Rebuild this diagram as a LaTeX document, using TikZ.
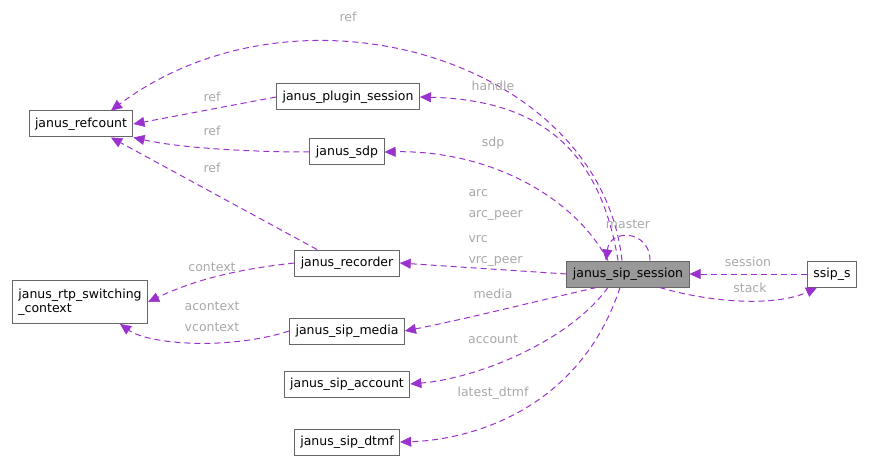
\documentclass[tikz,border=0pt]{standalone}
\usepackage{fontspec}
\setmainfont{DejaVu Sans}
\usetikzlibrary{positioning,calc,arrows.meta}
\definecolor{edgec}{HTML}{9A32CD}
\definecolor{labc}{HTML}{A8A8A8}
\definecolor{fillc}{HTML}{999999}

\begin{document}
\begin{tikzpicture}[x=1pt,y=-1pt,
    box/.style={draw=black!60, rectangle, minimum height=26, inner xsep=6, line width=1pt, font=\fontsize{12.5}{14}\selectfont, fill=white},
    arrow/.style={-{Triangle[length=11,width=10,fill=edgec,line width=0.5pt]}, dash pattern=on 6pt off 4pt, draw=edgec, line width=1pt},
    label/.style={font=\fontsize{12.5}{14}\selectfont, text=labc}
]
\useasboundingbox (0,0) rectangle (869,462);

% Nodes
\node[box] (refcount) at (81,124) {janus\_refcount};
\node[box] (plugin) at (348,97) {janus\_plugin\_session};
\node[box] (sdp) at (347,152) {janus\_sdp};
\node[box] (recorder) at (347,263) {janus\_recorder};
\node[box, align=left, minimum height=43, inner ysep=2] (rtp) at (80,302) {janus\_rtp\_switching\\\_context};
\node[box] (media) at (347,331) {janus\_sip\_media};
\node[box] (account) at (347,384) {janus\_sip\_account};
\node[box] (dtmf) at (347,442) {janus\_sip\_dtmf};
\node[box, fill=fillc] (session) at (628,274) {janus\_sip\_session};
\node[box] (ssip) at (832,274) {ssip\_s};

% Edges from the session
\draw[arrow] ($(session.north)+(-6,0)$) .. controls (600,60) and (300,-30) .. ($(refcount.north)+(30,0)$);
\draw[arrow] ($(session.north)+(-10,0)$) .. controls (600,150) and (540,100) .. (plugin.east);
\draw[arrow] ($(session.north)+(-20,0)$) .. controls (570,190) and (480,150) .. (sdp.east);
\draw[arrow] ($(session.north)+(22,0)$) .. controls (650,230) and (610,228) .. ($(session.north)+(-22,0)$);
\draw[arrow] (session.west) -- (recorder.east);
\draw[arrow] ($(session.south west)+(30,0)$) .. controls (520,305) and (470,318) .. (media.east);
\draw[arrow] ($(session.south)+(-20,0)$) .. controls (570,340) and (480,378) .. (account.east);
\draw[arrow] ($(session.south)+(-8,0)$) .. controls (580,410) and (470,440) .. (dtmf.east);
\draw[arrow] (ssip.west) -- (session.east);
\draw[arrow] ($(session.south east)+(-30,0)$) .. controls (720,305) and (780,305) .. ($(ssip.south)+(-15,0)$);

% Edges to the left column
\draw[arrow] (plugin.west) -- (refcount.east);
\draw[arrow] (sdp.west) .. controls (250,152) and (180,148) .. (refcount.south east);
\draw[arrow] ($(recorder.north)+(-30,0)$) -- ($(refcount.south)+(30,0)$);
\draw[arrow] (recorder.west) .. controls (230,270) and (190,282) .. (rtp.east);
\draw[arrow] (media.west) .. controls (230,350) and (150,345) .. ($(rtp.south)+(40,0)$);

% Labels
\node[label] (lref) at (348,17) {ref};
\node[label] (lhandle) at (493,86) {handle};
\node[label] (lsdp) at (493,143) {sdp};
\node[label] (lmaster) at (628,224) {master};
\node[label, anchor=west] (larc) at (465,193) {arc};
\node[label, anchor=west] (larcp) at (465,215) {arc\_peer};
\node[label, anchor=west] (lvrc) at (465,239) {vrc};
\node[label, anchor=west] (lvrcp) at (465,261) {vrc\_peer};
\node[label] (lmedia) at (493,294) {media};
\node[label] (laccount) at (493,339) {account};
\node[label] (ldtmf) at (493,393) {latest\_dtmf};
\node[label] (lsession) at (748,262) {session};
\node[label] (lstack) at (750,288) {stack};
\node[label] (lref2) at (212,97) {ref};
\node[label] (lref3) at (212,131) {ref};
\node[label] (lref4) at (212,168) {ref};
\node[label] (lcontext) at (212,267) {context};
\node[label] (lacontext) at (212,306) {acontext};
\node[label] (lvcontext) at (212,327) {vcontext};
\end{tikzpicture}
\end{document}
